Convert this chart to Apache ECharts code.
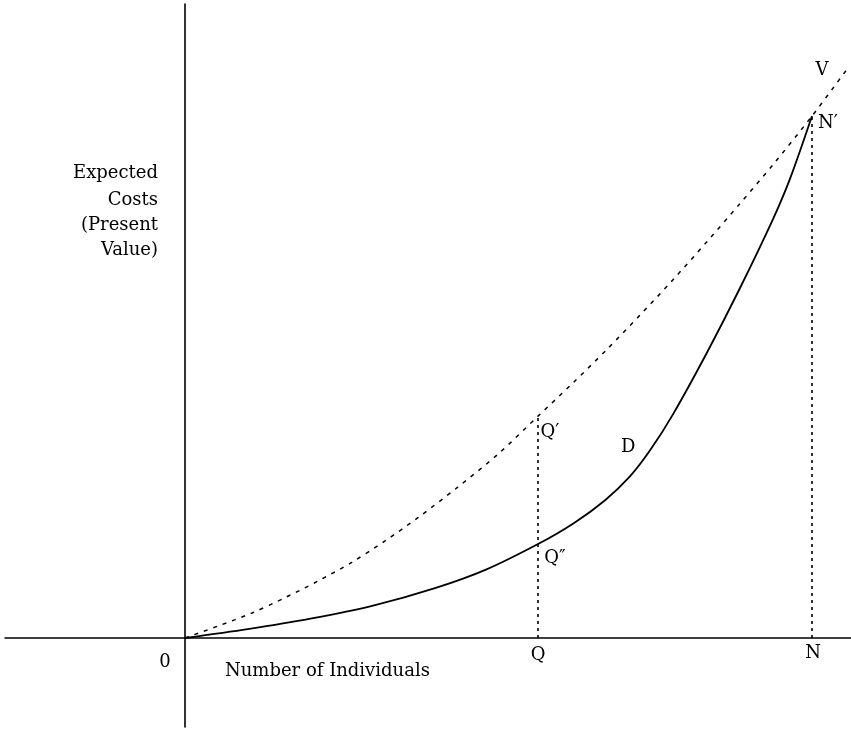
<!DOCTYPE html>
<html>
<head>
<meta charset="utf-8">
<script src="https://cdn.jsdelivr.net/npm/echarts@6/dist/echarts.min.js"></script>
<style>html,body{margin:0;padding:0;background:#fff}#c{width:851px;height:730px}</style>
</head>
<body>
<div id="c"></div>
<script>
// Units: N = 100 on the horizontal axis, N' = 100 on the vertical axis
const xQ = 56.3;
const xN = 100;
// Dotted curve V (upper)
const vX = [0, 5.3, 10.7, 15.9, 21.2, 26.6, 31.9, 37.2, 43.5, 50, 56.3, 61.9, 67.3, 72.6, 77.8, 83.3, 88.5, 94, 100, 105.6];
const vY = [0, 2.3, 4.8, 7.7, 10.9, 14.5, 18.6, 23.1, 28.9, 35.3, 42.5, 48.9, 55.3, 61.9, 68.6, 76.0, 83.2, 91.0, 100, 109.0];
// Solid curve D (lower)
const dX = [0, 10, 20, 30, 40, 48, 56.3, 62, 67, 71, 74.2, 77.8, 83.3, 88.5, 93.8, 96.5, 100];
const dY = [0, 1.7, 3.7, 6.2, 9.6, 13.1, 18.0, 22.0, 26.4, 31.0, 36.0, 42.8, 54.8, 67.0, 80.3, 88.0, 100];
const qPrime = 42.5;   // Q'
const qDouble = 18.0;  // Q''
const nPrime = 100;    // N'
const labelNames = ["V", "N\u2032", "Q\u2032", "Q\u2033", "D", "0", "Q", "N"];
const labelAt = [[xN, nPrime], [xN, nPrime], [xQ, qPrime], [xQ, qDouble], [74.2, 36.0], [0, 0], [xQ, 0], [xN, 0]];
const labelOffsets = [[10, -46], [16, 7], [12, 16], [17, 14], [-22, -3], [-20, 24], [0, 17], [1, 15]];
const yTitleLines = ["Expected", "Costs", "(Present", "Value)"];
const xTitle = "Number of Individuals";

const font = "DejaVu Serif";
const chart = echarts.init(document.getElementById('c'));
const zip = (a, b) => a.map((v, i) => [v, b[i]]);
const yTitleTops = [164, 191, 216, 241];
chart.setOption({
  animation: false,
  backgroundColor: '#fff',
  grid: { left: 5, right: 0, top: 4, bottom: 3 },
  xAxis: {
    type: 'value', min: -28.71, max: 106.22,
    axisLine: { show: true, onZero: true, lineStyle: { color: '#000', width: 1.6 } },
    axisTick: { show: false }, axisLabel: { show: false }, splitLine: { show: false }
  },
  yAxis: {
    type: 'value', min: -17.05, max: 121.46,
    axisLine: { show: true, onZero: true, lineStyle: { color: '#000', width: 1.6 } },
    axisTick: { show: false }, axisLabel: { show: false }, splitLine: { show: false }
  },
  series: [
    { type: 'line', data: zip(vX, vY), smooth: 0.3, symbol: 'none',
      lineStyle: { color: '#000', width: 1.5, type: [4, 6] } },
    { type: 'line', data: zip(dX, dY), smooth: 0.3, symbol: 'none',
      lineStyle: { color: '#000', width: 1.8 } },
    { type: 'line', data: [[xQ, 0], [xQ, qPrime]], symbol: 'none',
      lineStyle: { color: '#000', width: 1.6, type: [3, 4] } },
    { type: 'line', data: [[xN, 0], [xN, nPrime]], symbol: 'none',
      lineStyle: { color: '#000', width: 1.6, type: [3, 4] } },
    { type: 'scatter', symbolSize: 0, silent: true,
      itemStyle: { color: '#000', opacity: 1 },
      data: labelNames.map((n, i) => ({
        value: labelAt[i], name: n,
        label: { show: true, position: 'inside', offset: labelOffsets[i], formatter: n,
          color: '#000', textBorderWidth: 0, fontFamily: font, fontSize: 18 }
      })) }
  ],
  graphic: yTitleLines.map((t, i) => ({
      type: 'text', right: 851 - 158, top: yTitleTops[i],
      style: { text: t, fill: '#000', font: '18px "DejaVu Serif"' } }))
    .concat([{ type: 'text', left: 225, top: 662,
      style: { text: xTitle, fill: '#000', font: '18px "DejaVu Serif"' } }])
});
</script>
</body>
</html>
